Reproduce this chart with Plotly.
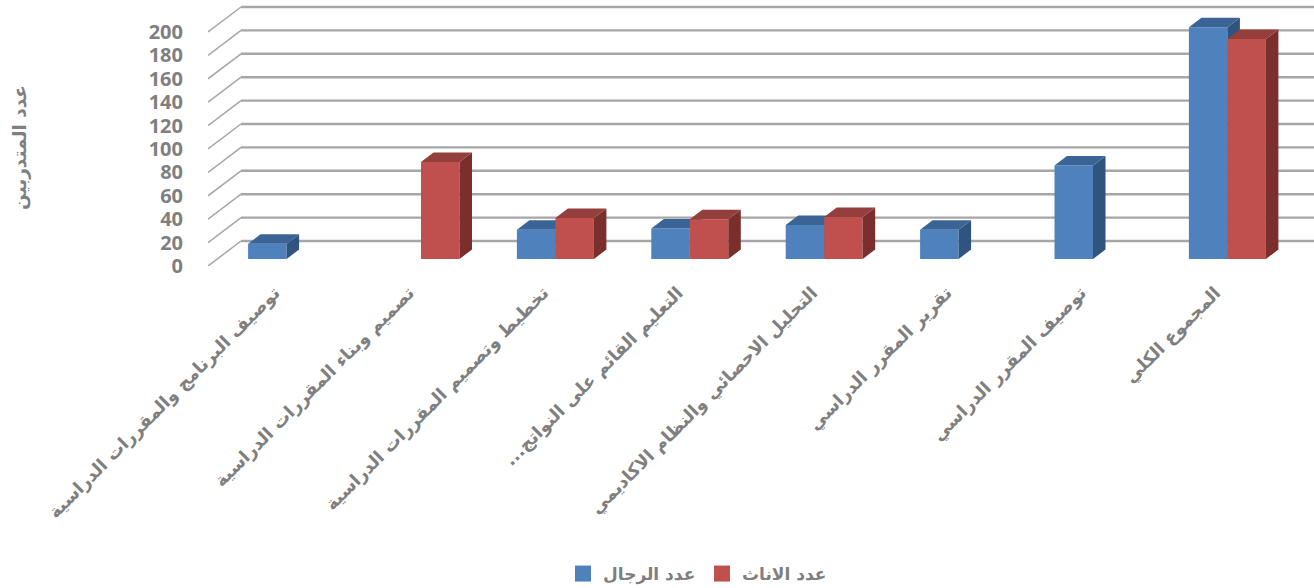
import plotly.graph_objects as go

categories = [
    "توصيف البرنامج والمقررات الدراسية",
    "تصميم وبناء المقررات الدراسية",
    "تخطيط وتصميم المقررات الدراسية",
    "التعليم القائم على النواتج...\u200f",
    "التحليل الاحصائي والنظام الاكاديمي",
    "تقرير المقرر الدراسي",
    "توصيف المقرر الدراسي",
    "المجموع الكلي",
]
men = [13, None, 25, 26, 29, 25, 80, 198]
women = [None, 83, 35, 34, 36, None, None, 188]
y_ticks = list(range(0, 201, 20))

W, H = 1314, 588
LEFT, RIGHT, BOTTOM = 208, 1314, 266
GROUP_PX, UNIT_PX = 134.4, 1.17
CENTER0 = 286.6
BAR_W = 38.5 / GROUP_PX
DX, DY = 12.5 / GROUP_PX, 9.5 / UNIT_PX
WALL_DX, WALL_DY = 33 / GROUP_PX, 25 / UNIT_PX
BAR_SHIFT = 7 / UNIT_PX
GREY = "#7f7f7f"
FONT = "DejaVu Sans, sans-serif"

xr = [(LEFT - CENTER0) / GROUP_PX, (RIGHT - CENTER0) / GROUP_PX]
y_top = BOTTOM / UNIT_PX
xs = list(range(len(categories)))

fig = go.Figure()

# floor lines (thin) and back wall lines (thick) on the front-plane axis
fx, fy, bx, by = [], [], [], []
for t in y_ticks:
    fx += [xr[0], xr[0] + WALL_DX, None]
    fy += [t, t + WALL_DY, None]
    bx += [xr[0] + WALL_DX, xr[1], None]
    by += [t + WALL_DY, t + WALL_DY, None]
fig.add_trace(go.Scatter(x=fx, y=fy, mode="lines", line=dict(color="#a6a6a6", width=1.5),
                         showlegend=False, hoverinfo="skip", cliponaxis=False))
fig.add_trace(go.Scatter(x=bx, y=by, mode="lines", line=dict(color="#a6a6a6", width=2.4),
                         showlegend=False, hoverinfo="skip", cliponaxis=False))
# invisible carrier so the category labels stay attached
fig.add_trace(go.Scatter(x=xs, y=[0] * len(xs), mode="none", showlegend=False, hoverinfo="skip"))


def add_series(vals, name, axis, offset, front, top, side):
    fig.add_trace(go.Bar(x=xs, y=vals, name=name, yaxis=axis, width=BAR_W, offset=offset,
                         marker=dict(color=front, line=dict(width=0)), showlegend=False))
    tx, ty, sx, sy = [], [], [], []
    for i, v in enumerate(vals):
        if v is None:
            continue
        a, b = i + offset, i + offset + BAR_W
        tx += [a, b, b + DX, a + DX, a, None]
        ty += [v, v, v + DY, v + DY, v, None]
        sx += [b, b + DX, b + DX, b, b, None]
        sy += [0, DY, v + DY, v, 0, None]
    for px, py, col in ((sx, sy, side), (tx, ty, top)):
        fig.add_trace(go.Scatter(x=px, y=py, yaxis=axis, mode="lines", fill="toself", fillcolor=col,
                                 line=dict(width=0, color=col), showlegend=False, hoverinfo="skip"))


add_series(men, "عدد الرجال", "y2", -BAR_W, "#4f81bd", "#3a6496", "#2f5480")
add_series(women, "عدد الاناث", "y3", 0, "#c0504d", "#943f3c", "#7a2f2d")

# legend entries
for name, col in (("عدد الرجال", "#4f81bd"), ("عدد الاناث", "#c0504d")):
    fig.add_trace(go.Scatter(x=[None], y=[None], mode="markers", name=name,
                             marker=dict(symbol="square", size=16, color=col)))

bar_range = [-BAR_SHIFT, y_top - BAR_SHIFT]
fig.update_layout(
    width=W, height=H, autosize=False,
    margin=dict(l=LEFT, r=W - RIGHT, t=0, b=H - BOTTOM, pad=0),
    paper_bgcolor="white", plot_bgcolor="white",
    barmode="overlay",
    font=dict(family=FONT, color=GREY, size=18),
    showlegend=True,
    legend=dict(orientation="h", xref="container", yref="container", x=563 / W, y=1 - 556 / H,
                xanchor="left", yanchor="top", font=dict(size=17, color=GREY, weight=700),
                bgcolor="rgba(0,0,0,0)", entrywidth=94, entrywidthmode="pixels"),
    xaxis=dict(range=xr, tickmode="array", tickvals=xs, ticktext=categories, tickangle=-45,
               showgrid=False, zeroline=False, showline=False, ticks="", ticklabelstandoff=12,
               ticklabelshift=-12, automargin=False,
               tickfont=dict(size=17.75, color=GREY, family=FONT, weight=700)),
    yaxis=dict(range=[0, y_top], tickmode="array", tickvals=y_ticks, showgrid=False, zeroline=False,
               showline=False, ticks="", ticklabelstandoff=24, automargin=False,
               tickfont=dict(size=20, color=GREY, family="Open Sans, sans-serif", weight=700)),
    yaxis2=dict(range=bar_range, overlaying="y", visible=False),
    yaxis3=dict(range=bar_range, overlaying="y", visible=False),
    annotations=[dict(text="عدد المتدربين", xref="paper", yref="paper", x=-(LEFT - 20) / (RIGHT - LEFT),
                      y=(BOTTOM - 148) / BOTTOM, textangle=-90, showarrow=False, xanchor="center",
                      yanchor="middle", font=dict(size=18.5, color=GREY, family=FONT, weight=700))],
)
fig.write_html("out.html", config={"displayModeBar": False},
               post_script="document.body.style.margin='0';")
